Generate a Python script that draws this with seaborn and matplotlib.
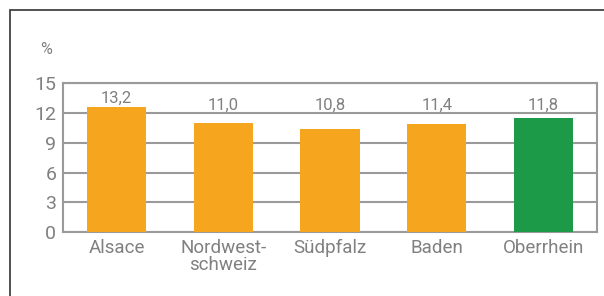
import numpy as np
import pandas as pd
import matplotlib
matplotlib.use("Agg")
import matplotlib.pyplot as plt
import seaborn as sns
from matplotlib.patches import Rectangle

regions = ["Alsace", "Nordwest-\nschweiz", "Südpfalz", "Baden", "Oberrhein"]
bar_values = [12.6, 11.0, 10.4, 10.9, 11.5]
value_labels = ["13,2", "11,0", "10,8", "11,4", "11,8"]
bar_colors = ["#F6A51E", "#F6A51E", "#F6A51E", "#F6A51E", "#1D9A47"]
y_ticks = [0, 3, 6, 9, 12, 15]

sns.set_theme(style="white")
plt.rcParams["font.family"] = ["Roboto", "DejaVu Sans"]
txt = "#808080"
grid = "#9a9a9a"

df = pd.DataFrame({"region": regions, "value": bar_values})

fig = plt.figure(figsize=(6.04, 2.96), dpi=100)
ax = fig.add_axes([63.3 / 604, 1 - 232 / 296, (596.7 - 63.3) / 604, (232 - 83.3) / 296])

sns.barplot(data=df, x="region", y="value", hue="region", palette=bar_colors,
            width=0.557, saturation=1, legend=False, ax=ax, zorder=3,
            edgecolor="none", linewidth=0)

ax.set_ylim(0, 15)
ax.set_xlim(-0.5, len(regions) - 0.5)
ax.set_yticks(y_ticks)
ax.set_yticklabels([str(t) for t in y_ticks], color=txt, fontsize=14)
ax.yaxis.grid(True, color=grid, linewidth=1.5, zorder=0)
ax.set_axisbelow(True)
ax.tick_params(axis="y", length=0, pad=5)
ax.set_xticks(range(len(regions)))
ax.set_xticklabels(regions, color=txt, fontsize=13.5, linespacing=0.95)
ax.tick_params(axis="x", which="major", length=0, pad=5)
ax.set_xticks(np.arange(-0.5, len(regions), 1), minor=True)
ax.tick_params(axis="x", which="minor", length=4, width=1.2, color=grid, direction="out")
ax.set_xlabel("")
ax.set_ylabel("")
for s in ax.spines.values():
    s.set_color(grid)
    s.set_linewidth(1.5)

for i, (v, lab) in enumerate(zip(bar_values, value_labels)):
    ax.annotate(lab, (i, max(v, 11.9)), xytext=(0, 1.0), textcoords="offset points",
                ha="center", va="bottom", color=txt, fontsize=12)

fig.text(46 / 604, 1 - 49 / 296, "%", ha="center", va="center", color=txt,
         fontsize=11.5)

fig.patches.append(Rectangle((10 / 604, -0.1), 1.2, 1 - 10 / 296 + 0.1,
                             transform=fig.transFigure, fill=False,
                             edgecolor="#333333", linewidth=1.2))

fig.savefig("out.png", dpi=100)
